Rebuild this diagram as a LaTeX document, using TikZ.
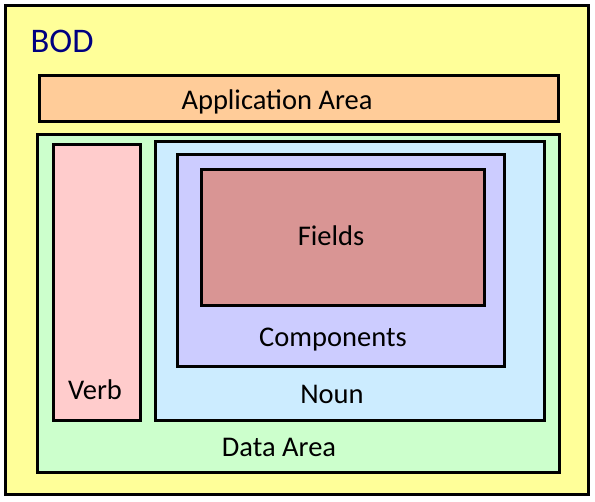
\documentclass[tikz,border=0pt]{standalone}
\usepackage{fontspec}
\setmainfont{Carlito}
\definecolor{bodfill}{HTML}{FFFF99}
\definecolor{appfill}{HTML}{FFCC99}
\definecolor{datafill}{HTML}{CCFFCC}
\definecolor{verbfill}{HTML}{FFCCCC}
\definecolor{nounfill}{HTML}{CCECFF}
\definecolor{compfill}{HTML}{CCCCFF}
\definecolor{fieldfill}{HTML}{D99594}
\definecolor{bodtext}{HTML}{000080}
\begin{document}
\begin{tikzpicture}[x=1pt,y=-1pt,
  box/.style={draw=black, line width=3pt, rectangle, inner sep=0pt, outer sep=0pt, anchor=north west},
  lbl/.style={anchor=base, inner sep=0pt, font=\fontsize{28.5}{34}\selectfont, text=black}]
\useasboundingbox (0,0) rectangle (595,502);
\node[box, fill=bodfill, minimum width=583pt, minimum height=488.5pt] (bod) at (5,6) {};
\node[box, fill=appfill, minimum width=518.8pt, minimum height=46pt] (app) at (39.5,75.7) {};
\node[box, fill=datafill, minimum width=522.3pt, minimum height=338.4pt] (data) at (37,134.3) {};
\node[box, fill=verbfill, minimum width=87pt, minimum height=276.7pt] (verb) at (53.3,144.3) {};
\node[box, fill=nounfill, minimum width=389pt, minimum height=279.2pt] (noun) at (155.3,141.8) {};
\node[box, fill=compfill, minimum width=326.6pt, minimum height=211.3pt] (comp) at (177.7,155) {};
\node[box, fill=fieldfill, minimum width=283.3pt, minimum height=136.7pt] (fields) at (201,169.3) {};
\node[lbl, anchor=base west, text=bodtext, font=\fontsize{34.5}{40}\selectfont] (bodlbl) at (30.5,53) {BOD};
\node[lbl] (applbl) at (277,109.5) {Application Area};
\node[lbl] (fieldslbl) at (331,245.5) {Fields};
\node[lbl] (complbl) at (333,346.5) {Components};
\node[lbl] (verblbl) at (95,399.5) {Verb};
\node[lbl] (nounlbl) at (332,403.5) {Noun};
\node[lbl] (datalbl) at (279,456.5) {Data Area};
\end{tikzpicture}
\end{document}
